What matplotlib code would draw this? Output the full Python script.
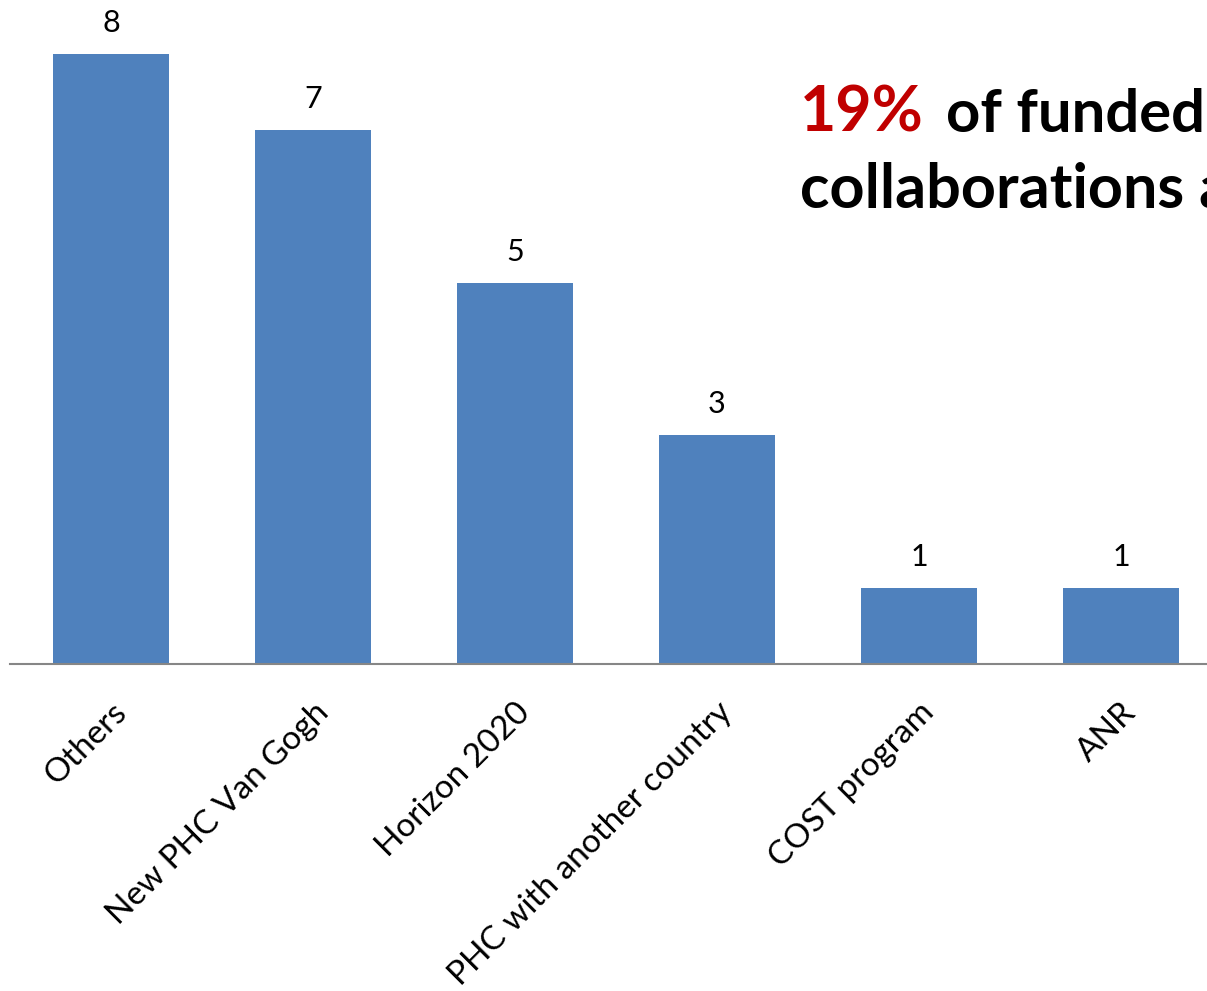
import matplotlib.pyplot as plt

categories = ["Others", "New PHC Van Gogh", "Horizon 2020",
              "PHC with another country", "COST program", "ANR"]
counts = [8, 7, 5, 3, 1, 1]

W, H = 1207, 991
fig = plt.figure(figsize=(W / 100, H / 100), dpi=100)
plt.rcParams['font.family'] = ['Lato', 'DejaVu Sans']

# axes in pixel terms: left edge 10px, baseline at y=664, 202px per category
ax = fig.add_axes([10 / W, (H - 664) / H, 6 * 202 / W, 664 / H])
x = list(range(len(categories)))
ax.bar(x, counts, width=0.57, color='#4F81BD', zorder=2)
ax.set_xlim(-0.5, 5.5)
ax.set_ylim(0, 664 / 76.25)

for xi, v in zip(x, counts):
    ax.text(xi, v + 0.22, str(v), ha='center', va='bottom', fontsize=22)

ax.set_xticks(x)
ax.set_xticklabels(categories, rotation=45, ha='right', rotation_mode='anchor',
                   fontsize=24)
ax.tick_params(axis='x', length=0, pad=24)
ax.set_yticks([])
for s in ['top', 'right', 'left']:
    ax.spines[s].set_visible(False)
ax.spines['bottom'].set_color('#868686')
ax.spines['bottom'].set_linewidth(1.5)

# headline text, cut off by the figure edge as in the original
fig.text(800 / W, 1 - 132 / H, "19%", color='#C00000', fontsize=45,
         fontweight='bold', va='baseline', ha='left')
fig.text(946 / W, 1 - 132 / H, "of funded", color='black', fontsize=43,
         fontweight='bold', va='baseline', ha='left')
fig.text(800 / W, 1 - 208 / H, "collaborations a", color='black', fontsize=44,
         fontweight='bold', va='baseline', ha='left')

fig.savefig("out.png", dpi=100)
